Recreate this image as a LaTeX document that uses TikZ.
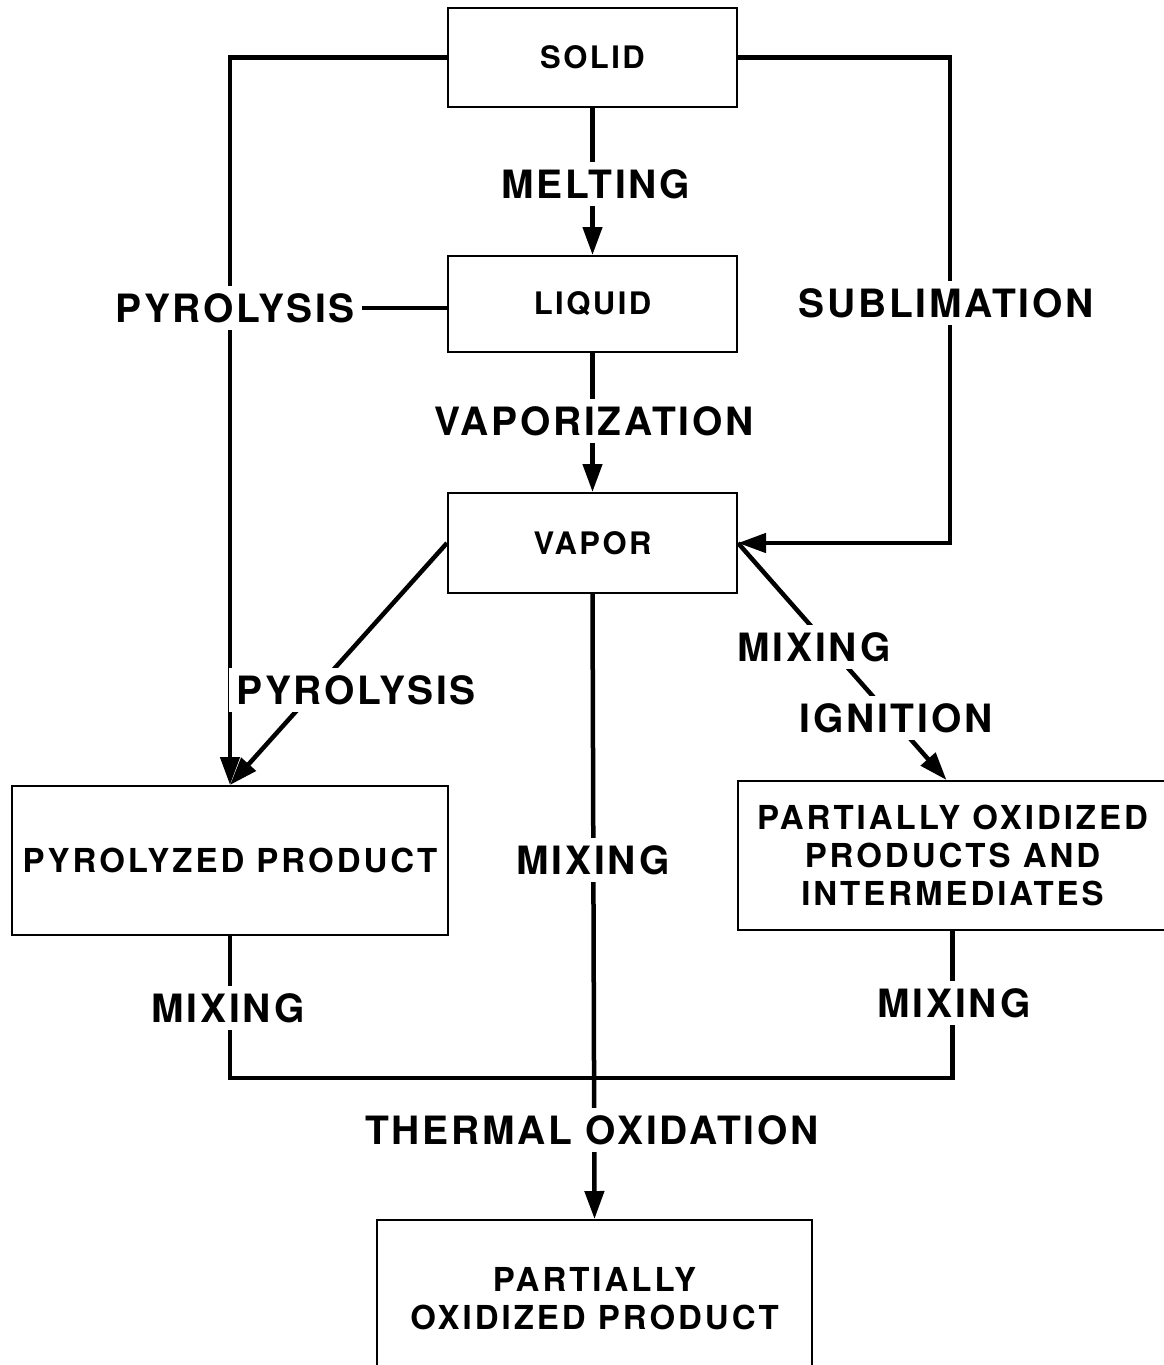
\documentclass[tikz,border=0pt]{standalone}
\usepackage{fontspec}
\setmainfont{TeX Gyre Heros}
\newfontfamily\boxfont[LetterSpace=8]{TeX Gyre Heros}
\newfontfamily\bigboxfont[LetterSpace=9]{TeX Gyre Heros}
\newfontfamily\labfont[LetterSpace=7]{TeX Gyre Heros}
\usetikzlibrary{arrows.meta}
\begin{document}
\begin{tikzpicture}[x=1pt,y=-1pt,
  box/.style={draw, line width=2pt, inner sep=0pt, align=center,
    font=\boxfont\bfseries\fontsize{31}{38}\selectfont},
  bigbox/.style={box, font=\bigboxfont\bfseries\fontsize{33}{38}\selectfont},
  lab/.style={fill=white, inner sep=7pt, font=\labfont\bfseries\fontsize{39}{46}\selectfont},
  conn/.style={line width=4.5pt},
  arr/.style={conn, -{Triangle[length=28pt,width=19pt]}}]
\useasboundingbox (0,0) rectangle (1164,1365);
% boxes
\node[box, minimum width=289pt, minimum height=99pt] (solid) at (592.5,57.5) {SOLID};
\node[box, minimum width=289pt, minimum height=96pt] (liq) at (592.5,304) {LIQUID};
\node[box, minimum width=289pt, minimum height=100pt] (vap) at (592.5,543) {VAPOR};
\node[bigbox, minimum width=436pt, minimum height=149pt] (pyro) at (230,860.5) {PYROLYZED PRODUCT};
\node[bigbox, minimum width=429pt, minimum height=149pt] (part) at (952.5,855.5) {PARTIALLY OXIDIZED\\PRODUCTS AND\\INTERMEDIATES};
\node[bigbox, minimum width=435pt, minimum height=158pt] (final) at (594.5,1299) {PARTIALLY\\OXIDIZED PRODUCT};
\coordinate (rx) at (950,300);
\coordinate (jn) at (595,1078);
% connectors
\draw[arr] (solid.south) -- (liq.north);
\draw[arr] (liq.south) -- (vap.north);
\draw[arr] (solid.west) -| (pyro.north);
\draw[arr] (solid.east) -| (rx) |- (vap.east);
\draw[arr] (vap.west) -- (pyro.north);
\draw[arr] (vap.east) -- ([xshift=-6pt]part.north);
\draw[arr] (vap.south) -- (final.north);
\draw[conn] (pyro.south) |- (jn) -| (part.south);
% labels
\node[lab] (melt) at (596,184) {MELTING};
\node[lab] (pyroL) at (235,308) {PYROLYSIS};
\draw[conn] (pyroL.east) -- (pyroL.east -| liq.west);
\node[lab] (subl) at (946,303) {SUBLIMATION};
\node[lab] (vapz) at (594,421) {VAPORIZATION};
\node[lab] (pyroD) at (356,690) {PYROLYSIS};
\node[lab] (mixA) at (814,647) {MIXING};
\node[lab] (ign) at (896,718) {IGNITION};
\node[lab] (mixC) at (593,860) {MIXING};
\node[lab] (mixL) at (228,1008) {MIXING};
\node[lab] (mixR) at (954,1003) {MIXING};
\node[lab] (therm) at (592,1130) {THERMAL OXIDATION};
\end{tikzpicture}
\end{document}
